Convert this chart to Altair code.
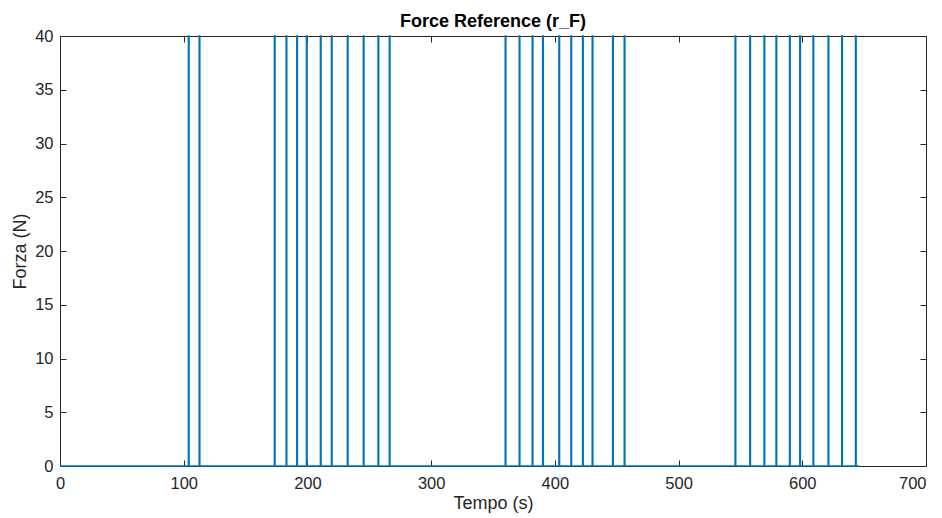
import altair as alt
import pandas as pd

# spike start times (s)
spike_times = [103.8, 112.5, 173.3, 182.8, 191.4, 199.2, 210.5, 219.4, 232.3, 245.2, 257.1, 266.2,
               359.9, 371.2, 381.7, 390.1, 403.3, 413.0, 422.4, 430.2, 446.7, 456.1,
               545.7, 557.6, 569.1, 578.8, 589.7, 598.0, 608.7, 620.9, 631.9, 643.0]
pulse_level = 40
pulse_width = 0.5
t_start = 0
t_end = 646

x_ticks = [0, 100, 200, 300, 400, 500, 600, 700]
y_ticks = [0, 5, 10, 15, 20, 25, 30, 35, 40]

rows = [(t_start, 0)]
for t in spike_times:
    rows += [(t, 0), (t, pulse_level), (t + pulse_width, pulse_level), (t + pulse_width, 0)]
rows.append((t_end, 0))
df = pd.DataFrame(rows, columns=["t", "F"])
df["i"] = range(len(df))

W, H = 866, 430
FONT = "Liberation Sans"
xs = alt.Scale(domain=[0, 700], nice=False, zero=False)
ys = alt.Scale(domain=[0, 40], nice=False)

common = dict(domain=False, grid=False, labelFlush=False)

main = alt.Chart(df).mark_line(color="#0072BD", strokeWidth=1.5, interpolate="linear").encode(
    x=alt.X("t:Q", scale=xs, axis=alt.Axis(orient="bottom", values=x_ticks, ticks=False, tickSize=0,
                                          labelPadding=9, title="Tempo (s)", titlePadding=3,
                                          labelAlign={"expr": "datum.value == 700 ? 'right' : 'center'"},
                                          **common)),
    y=alt.Y("F:Q", scale=ys, axis=alt.Axis(orient="left", values=y_ticks, ticks=False, tickSize=0,
                                          labelPadding=7, title="Forza (N)", titlePadding=5, **common)),
    order="i:Q",
)

ticks_a = alt.Chart(df).mark_line(opacity=0).encode(
    x=alt.X("t:Q", scale=xs, axis=alt.Axis(orient="top", offset=-H, values=x_ticks, labels=False,
                                          ticks=True, tickSize=6, title=None, **common)),
    y=alt.Y("F:Q", scale=ys, axis=alt.Axis(orient="right", offset=-W, values=y_ticks, labels=False,
                                          ticks=True, tickSize=6, title=None, **common)),
    order="i:Q",
)

ticks_b = alt.Chart(df).mark_line(opacity=0).encode(
    x=alt.X("t:Q", scale=xs, axis=alt.Axis(orient="bottom", offset=-H, values=x_ticks, labels=False,
                                          ticks=True, tickSize=6, title=None, **common)),
    y=alt.Y("F:Q", scale=ys, axis=alt.Axis(orient="left", offset=-W, values=y_ticks, labels=False,
                                          ticks=True, tickSize=6, title=None, **common)),
    order="i:Q",
)

chart = alt.layer(main, ticks_a, ticks_b).resolve_axis(x="independent", y="independent").properties(
    width=W, height=H,
    title=alt.TitleParams("Force Reference (r_F)", fontSize=18, fontWeight="bold", font=FONT,
                          color="#000000", anchor="middle", offset=0, dy=3),
    autosize=alt.AutoSizeParams(type="none"),
    padding={"left": 52, "top": 28, "right": 8, "bottom": 48},
    background="white",
).configure_view(stroke="#262626", strokeWidth=1).configure_axis(
    labelFont=FONT, labelFontSize=16.5, labelColor="#262626", tickColor="#262626",
    titleFont=FONT, titleFontSize=18, titleFontWeight="normal", titleColor="#262626",
)

chart.save("out.html", embed_options={"renderer": "svg", "actions": False})
